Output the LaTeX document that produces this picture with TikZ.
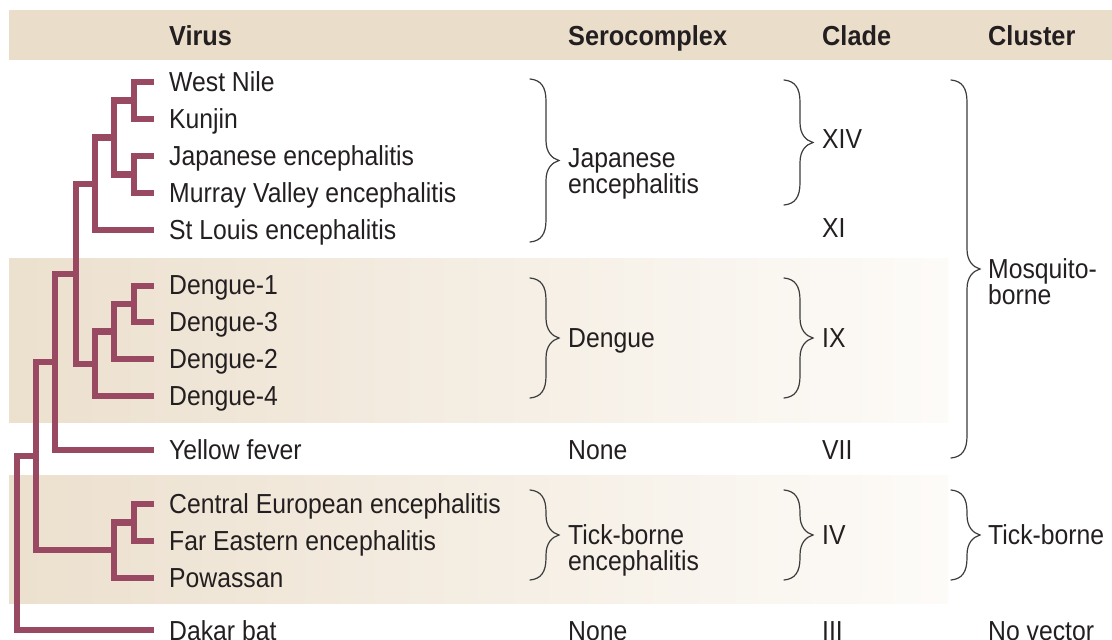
\documentclass[tikz,border=0pt]{standalone}
\usepackage{fontspec}
\setmainfont{Liberation Sans}
\newfontfamily\labfont[FakeStretch=0.90]{Liberation Sans}
\newfontfamily\hdrfont[FakeStretch=0.92]{Liberation Sans}
\definecolor{tree}{RGB}{153,73,98}
\definecolor{band}{RGB}{234,222,202}
\definecolor{bandL}{RGB}{236,224,206}
\definecolor{bandR}{RGB}{253,251,248}
\definecolor{ink}{RGB}{35,31,32}
\definecolor{brc}{RGB}{60,60,60}
\newcommand\mybrace[3]{%
  \pgfmathsetmacro\brmid{(#2+#3)/2}%
  \draw[bracestyle] (#1,#2) .. controls (#1+11,#2+1) and (#1+16,#2+8) .. (#1+16,#2+22)
    -- (#1+16,\brmid-20) .. controls (#1+16,\brmid-8) and (#1+22,\brmid-2) .. (#1+29,\brmid)
    .. controls (#1+22,\brmid+2) and (#1+16,\brmid+8) .. (#1+16,\brmid+20)
    -- (#1+16,#3-22) .. controls (#1+16,#3-8) and (#1+11,#3-1) .. (#1,#3);
}
\begin{document}
\begin{tikzpicture}[x=1pt,y=-1pt,
  lab/.style={anchor=base west, inner sep=0pt, text=ink, font=\labfont\fontsize{27.5}{27}\selectfont},
  hdr/.style={anchor=base west, inner sep=0pt, text=ink, font=\hdrfont\bfseries\fontsize{27.5}{27}\selectfont},
  branch/.style={draw=tree, line width=6.3pt, line cap=butt, line join=miter},
  bracestyle/.style={draw=brc, line width=1.2pt, line cap=round}]
\useasboundingbox (0,0) rectangle (1112,640);
% bands
\fill[band] (9,10) rectangle (1112,60);
\shade[left color=bandL, right color=bandR] (9,258) rectangle (948,422);
\shade[left color=bandL, right color=bandR] (9,475) rectangle (948,603);
% headers
\node[hdr] (hVirus) at (169,45) {Virus};
\node[hdr] (hSero) at (568,45) {Serocomplex};
\node[hdr] (hClade) at (822,45) {Clade};
\node[hdr] (hClus) at (988,45) {Cluster};
% leaf coordinates
\coordinate (wn) at (154,82);
\coordinate (ku) at (154,119);
\coordinate (je) at (154,156);
\coordinate (mv) at (154,193);
\coordinate (sl) at (154,230);
\coordinate (d1) at (154,286);
\coordinate (d3) at (154,322);
\coordinate (d2) at (154,359);
\coordinate (d4) at (154,396);
\coordinate (yf) at (154,450);
\coordinate (ce) at (154,504);
\coordinate (fe) at (154,541);
\coordinate (po) at (154,578);
\coordinate (db) at (154,630);
% internal nodes
\coordinate (nA) at (134,100.5);
\coordinate (nB) at (134,174.5);
\coordinate (nC) at (114,137.5);
\coordinate (nD) at (95,183.75);
\coordinate (nE) at (134,304);
\coordinate (nF) at (114,331.5);
\coordinate (nG) at (95,363.75);
\coordinate (nH) at (76,273.75);
\coordinate (nI) at (55,361.9);
\coordinate (nJ) at (134,522.5);
\coordinate (nK) at (114,550);
\coordinate (nL) at (36,456);
\coordinate (nR) at (17,543);
% branches
\draw[branch] (wn) -| (nA) |- (ku);
\draw[branch] (je) -| (nB) |- (mv);
\draw[branch] (nA) -| (nC) |- (nB);
\draw[branch] (nC) -| (nD) |- (sl);
\draw[branch] (d1) -| (nE) |- (d3);
\draw[branch] (nE) -| (nF) |- (d2);
\draw[branch] (nF) -| (nG) |- (d4);
\draw[branch] (nD) -| (nH) |- (nG);
\draw[branch] (nH) -| (nI) |- (yf);
\draw[branch] (ce) -| (nJ) |- (fe);
\draw[branch] (nJ) -| (nK) |- (po);
\draw[branch] (nI) -| (nL) |- (nK);
\draw[branch] (nL) -| (nR) |- (db);
% virus labels
\node[lab] (tWN) at (169,91) {West Nile};
\node[lab] (tKU) at (169,128) {Kunjin};
\node[lab] (tJE) at (169,165) {Japanese encephalitis};
\node[lab] (tMV) at (169,202) {Murray Valley encephalitis};
\node[lab] (tSL) at (169,239) {St Louis encephalitis};
\node[lab] (tD1) at (169,294) {Dengue-1};
\node[lab] (tD3) at (169,331) {Dengue-3};
\node[lab] (tD2) at (169,368) {Dengue-2};
\node[lab] (tD4) at (169,405) {Dengue-4};
\node[lab] (tYF) at (169,459) {Yellow fever};
\node[lab] (tCE) at (169,513) {Central European encephalitis};
\node[lab] (tFE) at (169,550) {Far Eastern encephalitis};
\node[lab] (tPO) at (169,587) {Powassan};
\node[lab] (tDB) at (169,640) {Dakar bat};
% braces
\mybrace{530}{79}{242}
\mybrace{784}{80}{205}
\mybrace{530}{278}{398}
\mybrace{784}{278}{398}
\mybrace{951}{80}{458}
\mybrace{530}{490}{580}
\mybrace{784}{490}{580}
\mybrace{951}{490}{580}
% serocomplex
\node[lab] (sJE1) at (568,167) {Japanese};
\node[lab] (sJE2) at (568,193) {encephalitis};
\node[lab] (sDEN) at (568,347) {Dengue};
\node[lab] (sYF) at (568,459) {None};
\node[lab] (sTB1) at (568,544) {Tick-borne};
\node[lab] (sTB2) at (568,570) {encephalitis};
\node[lab] (sDB) at (568,640) {None};
% clade
\node[lab] (cXIV) at (822,148) {XIV};
\node[lab] (cXI) at (822,237) {XI};
\node[lab] (cIX) at (822,347) {IX};
\node[lab] (cVII) at (822,459) {VII};
\node[lab] (cIV) at (822,544) {IV};
\node[lab] (cIII) at (822,640) {III};
% cluster
\node[lab] (kM1) at (988,278) {Mosquito-};
\node[lab] (kM2) at (988,304) {borne};
\node[lab] (kTB) at (988,544) {Tick-borne};
\node[lab] (kNV) at (988,640) {No vector};
\end{tikzpicture}
\end{document}
